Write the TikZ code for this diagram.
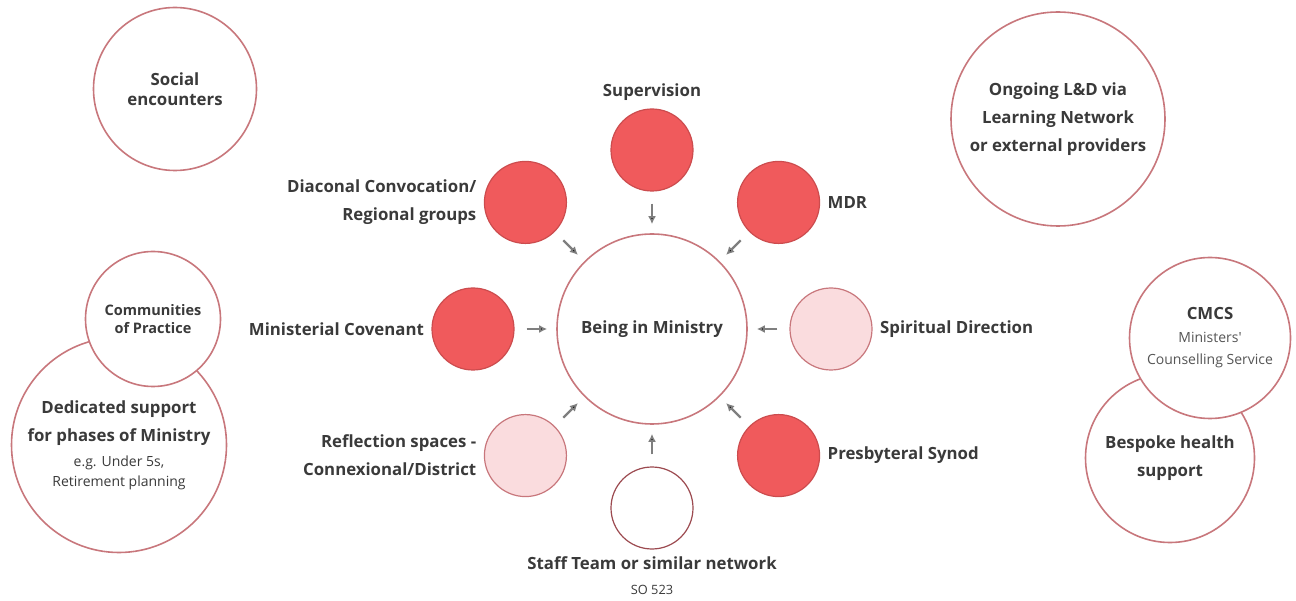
\documentclass[tikz,border=0pt]{standalone}
\usepackage{fontspec}
\setmainfont{Open Sans}
\usetikzlibrary{arrows.meta,positioning}

\definecolor{ink}{HTML}{3A3A3A}
\definecolor{softink}{HTML}{555555}
\definecolor{rosy}{HTML}{C8777C}
\definecolor{coral}{HTML}{F05A5C}
\definecolor{blush}{HTML}{FADCDE}
\definecolor{wine}{HTML}{9C4A50}
\definecolor{arrowgray}{HTML}{7F7F7F}

\tikzset{
  txt/.style={font=\fontsize{16.8}{28}\selectfont\bfseries, text=ink},
  bubble/.style={circle, draw=rosy, line width=1.6pt, fill=white, inner sep=0pt, align=center, txt},
  ball/.style={circle, minimum size=82pt, inner sep=0pt, line width=1.2pt},
  coralball/.style={ball, fill=coral, draw=coral!85!black},
  blushball/.style={ball, fill=blush, draw=rosy},
  hollowball/.style={ball, fill=white, draw=wine},
  tag/.style={txt, align=right},
  feed/.style={-{Latex[length=8pt,width=8pt]}, draw=arrowgray, line width=2.2pt, shorten <=12pt, shorten >=9pt}
}

\begin{document}
\begin{tikzpicture}[x=1pt, y=-1pt, on grid, node distance=179pt, label distance=4pt]
   \useasboundingbox (0,0) rectangle (1296,601);

   % hub and the ring round it
   \node[bubble, minimum size=190pt] (ministry) at (652,329) {Being in Ministry};
   \node[coralball, above=of ministry, label={[txt]above:Supervision}] (supervision) {};
   \node[coralball, above left=of ministry, label={[tag]left:{Diaconal Convocation/\\Regional groups}}] (diaconal) {};
   \node[coralball, above right=of ministry, label={[txt]right:MDR}] (mdr) {};
   \node[coralball, left=of ministry, label={[txt]left:Ministerial Covenant}] (covenant) {};
   \node[blushball, right=of ministry, label={[txt]right:Spiritual Direction}] (direction) {};
   \node[blushball, below left=of ministry, label={[tag]left:{Reflection spaces -\\Connexional/District}}] (reflection) {};
   \node[coralball, below right=of ministry, label={[txt]right:Presbyteral Synod}] (synod) {};
   \node[hollowball, below=of ministry, label={[txt, align=center]below:{Staff Team or similar network\\[-3pt]{\fontsize{12.8}{14}\mdseries SO 523}}}] (staff) {};

   \path[feed]
    (supervision) edge (ministry)
    (diaconal) edge (ministry)
    (mdr) edge (ministry)
    (covenant) edge (ministry)
    (direction) edge (ministry)
    (reflection) edge (ministry)
    (synod) edge (ministry)
    (staff) edge (ministry);

   % outer circles
   \node[bubble, minimum size=163pt, font=\fontsize{16.8}{20}\selectfont\bfseries] (social) at (175,89) {Social\\encounters};
   \node[bubble, minimum size=214pt] (ongoing) at (1058,119) {Ongoing L\&D via\\Learning Network\\or external providers};
   \node[bubble, minimum size=215pt] (phases) at (119,445) {Dedicated support\\for phases of Ministry\\[-3pt]{\fontsize{14}{20}\mdseries e.g. Under 5s,}\\[-8pt]{\fontsize{14}{20}\mdseries Retirement planning}};
   \node[bubble, minimum size=135pt, font=\fontsize{14.5}{18}\selectfont\bfseries] (practice) at (153,319) {Communities\\of Practice};
   \node[bubble, minimum size=169pt] (bespoke) at (1170,458) {Bespoke health\\support};
   \node[bubble, minimum size=161pt] (cmcs) at (1210,338) {CMCS\\[-5pt]{\fontsize{14}{20}\mdseries\color{softink}Ministers\textquotesingle}\\[-6pt]{\fontsize{14}{20}\mdseries\color{softink}Counselling Service}};
\end{tikzpicture}
\end{document}
